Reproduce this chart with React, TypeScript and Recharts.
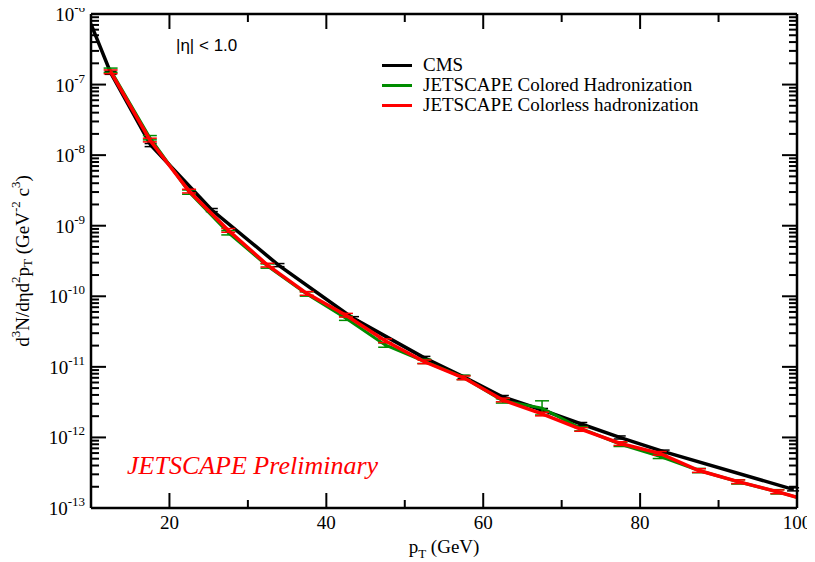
import React from 'react';
import { LineChart, Line, XAxis, YAxis, ErrorBar } from 'recharts';

// ---- data ----
const cmsPt = [10, 12.5, 17.6, 25.4, 33.9, 43.4, 52.5, 57.5, 62.5, 67.5, 72.5, 77.4, 83.0, 99.5];
const cmsVal = [7.2e-7, 1.47e-7, 1.39e-8, 1.67e-9, 2.77e-10, 4.9e-11, 1.34e-11, 7.2e-12, 3.74e-12, 2.45e-12, 1.55e-12, 1.0e-12, 6.3e-13, 1.84e-13];
const cmsRelErr = [0, 0.05, 0.05, 0.05, 0.05, 0.05, 0.05, 0.05, 0.05, 0.05, 0.05, 0.05, 0.05, 0.05];

const jsPt = [12.5, 17.5, 22.5, 27.5, 32.5, 37.5, 42.5, 47.5, 52.5, 57.5, 62.5, 67.5, 72.5, 77.5, 82.5, 87.5, 92.5, 97.5, 100];
const coloredVal = [1.6e-7, 1.77e-8, 3.0e-9, 7.96e-10, 2.69e-10, 1.08e-10, 4.9e-11, 2.04e-11, 1.2e-11, 7.1e-12, 3.3e-12, 2.6e-12, 1.33e-12, 8.0e-13, 5.4e-13, 3.4e-13, 2.35e-13, 1.7e-13, 1.42e-13];
const coloredRelErrLo = [0.07, 0.07, 0.07, 0.07, 0.07, 0.07, 0.07, 0.07, 0.07, 0.07, 0.07, 0.2, 0.07, 0.07, 0.07, 0.07, 0.07, 0.07, 0];
const coloredRelErrHi = [0.07, 0.07, 0.07, 0.07, 0.07, 0.07, 0.07, 0.07, 0.07, 0.07, 0.07, 0.27, 0.07, 0.07, 0.07, 0.07, 0.07, 0.07, 0];
const colorlessVal = [1.52e-7, 1.64e-8, 3.1e-9, 8.6e-10, 2.77e-10, 1.1e-10, 5.4e-11, 2.35e-11, 1.18e-11, 7.0e-12, 3.4e-12, 2.15e-12, 1.3e-12, 8.2e-13, 5.95e-13, 3.4e-13, 2.36e-13, 1.7e-13, 1.42e-13];
const colorlessRelErr = [0.06, 0.06, 0.06, 0.06, 0.06, 0.06, 0.06, 0.06, 0.06, 0.06, 0.06, 0.06, 0.06, 0.06, 0.06, 0.06, 0.06, 0.06, 0];

const xTicks = [10, 20, 30, 40, 50, 60, 70, 80, 90, 100];
const xLabeled = [20, 40, 60, 80, 100];
const decades = [-13, -12, -11, -10, -9, -8, -7];
const mantissas = [1, 2, 3, 4, 5, 6, 7, 8, 9];

const legendItems = [
  { name: 'CMS', color: '#000000' },
  { name: 'JETSCAPE Colored Hadronization', color: '#008c00' },
  { name: 'JETSCAPE Colorless hadronization', color: '#ff0000' },
];

// ---- tables built from arrays ----
const yTicks: number[] = [];
decades.forEach((d) => mantissas.forEach((m) => yTicks.push(Number((m * Math.pow(10, d)).toPrecision(6)))));
yTicks.push(1e-6);

const cmsData = cmsPt.map((x, i) => ({
  x,
  y: cmsVal[i],
  err: cmsRelErr[i] > 0 ? [cmsVal[i] * cmsRelErr[i], cmsVal[i] * cmsRelErr[i]] : null,
}));
const coloredData = jsPt.map((x, i) => ({
  x,
  y: coloredVal[i],
  err: coloredRelErrHi[i] > 0 ? [coloredVal[i] * coloredRelErrLo[i], coloredVal[i] * coloredRelErrHi[i]] : null,
}));
const colorlessData = jsPt.map((x, i) => ({
  x,
  y: colorlessVal[i],
  err: colorlessRelErr[i] > 0 ? [colorlessVal[i] * colorlessRelErr[i], colorlessVal[i] * colorlessRelErr[i]] : null,
}));

const SERIF = '"Liberation Serif", "Times New Roman", serif';
const SANS = '"Liberation Sans", Arial, sans-serif';

const isMajor = (v: number) => {
  const lg = Math.log10(v);
  return Math.abs(lg - Math.round(lg)) < 1e-6;
};

const LeftTick = (props: any) => {
  const { x, y, payload } = props;
  const v = payload.value;
  const major = isMajor(v);
  const e = Math.round(Math.log10(v));
  return (
    <g>
      <line x1={x} x2={x + (major ? 15 : 8)} y1={y} y2={y} stroke="#000" strokeWidth={2} />
      {major && (
        <text x={x - 6} y={y + 7} textAnchor="end" fontFamily={SERIF} fontSize={19} fill="#000">
          10
          <tspan dy={-9} fontSize={13}>{'-' + Math.abs(e)}</tspan>
        </text>
      )}
    </g>
  );
};

const RightTick = (props: any) => {
  const { x, y, payload } = props;
  const major = isMajor(payload.value);
  return <line x1={x} x2={x - (major ? 15 : 8)} y1={y} y2={y} stroke="#000" strokeWidth={2} />;
};

const BottomTick = (props: any) => {
  const { x, y, payload } = props;
  const v = payload.value;
  const labeled = xLabeled.includes(v);
  if (v === 10) return <g />;
  return (
    <g>
      <line x1={x} x2={x} y1={y} y2={y - (labeled ? 15 : 8)} stroke="#000" strokeWidth={2} />
      {labeled && (
        <text x={x} y={y + 21} textAnchor="middle" fontFamily={SERIF} fontSize={19} fill="#000">
          {v}
        </text>
      )}
    </g>
  );
};

const TopTick = (props: any) => {
  const { x, y, payload } = props;
  const v = payload.value;
  if (v === 10 || v === 100) return <g />;
  const labeled = xLabeled.includes(v);
  return <line x1={x} x2={x} y1={y} y2={y + (labeled ? 15 : 8)} stroke="#000" strokeWidth={2} />;
};

const YLabel = (props: any) => {
  const vb = props.viewBox || {};
  const cx = 22;
  const cy = (vb.y ?? 14) + (vb.height ?? 494) / 2;
  return (
    <text
      x={cx}
      y={cy}
      transform={`rotate(-90 ${cx} ${cy})`}
      textAnchor="middle"
      dominantBaseline="central"
      fontFamily={SERIF}
      fontSize={19}
      fill="#000"
    >
      d<tspan dy={-7} fontSize={13}>3</tspan>
      <tspan dy={7}>N/dηd</tspan>
      <tspan dy={-7} fontSize={13}>2</tspan>
      <tspan dy={7}>p</tspan>
      <tspan dy={5} fontSize={13}>T</tspan>
      <tspan dy={-5}> (GeV</tspan>
      <tspan dy={-7} fontSize={13}>-2</tspan>
      <tspan dy={7}> c</tspan>
      <tspan dy={-7} fontSize={13}>3</tspan>
      <tspan dy={7}>)</tspan>
    </text>
  );
};

const XLabel = (props: any) => {
  const vb = props.viewBox || {};
  const cx = (vb.x ?? 91) + (vb.width ?? 706) / 2;
  const cy = 553;
  return (
    <text x={cx} y={cy} textAnchor="middle" fontFamily={SERIF} fontSize={19} fill="#000">
      p<tspan dy={5} fontSize={13}>T</tspan>
      <tspan dy={-5}> (GeV)</tspan>
    </text>
  );
};

export default function App() {
  return (
    <div style={{ position: 'relative', width: 815, height: 562, marginLeft: -8, marginTop: -8, background: '#fff' }}>
      <LineChart width={815} height={562} margin={{ top: 0, right: 0, bottom: 0, left: 0 }}>
        <XAxis
          xAxisId="b"
          type="number"
          dataKey="x"
          domain={[10, 100]}
          allowDataOverflow
          ticks={xTicks}
          interval={0}
          height={54}
          tickSize={0}
          tickMargin={0}
          tickLine={false}
          tick={<BottomTick />}
          axisLine={{ stroke: '#000', strokeWidth: 2.5 }}
          label={<XLabel />}
        />
        <XAxis
          xAxisId="t"
          orientation="top"
          type="number"
          dataKey="x"
          domain={[10, 100]}
          allowDataOverflow
          ticks={xTicks}
          interval={0}
          height={14}
          tickSize={0}
          tickMargin={0}
          tickLine={false}
          tick={<TopTick />}
          axisLine={{ stroke: '#000', strokeWidth: 2.5 }}
        />
        <YAxis
          yAxisId="l"
          type="number"
          scale="log"
          domain={[1e-13, 1e-6]}
          allowDataOverflow
          ticks={yTicks}
          interval={0}
          width={91}
          tickSize={0}
          tickMargin={0}
          tickLine={false}
          tick={<LeftTick />}
          axisLine={{ stroke: '#000', strokeWidth: 2.5 }}
          label={<YLabel />}
        />
        <YAxis
          yAxisId="r"
          orientation="right"
          type="number"
          scale="log"
          domain={[1e-13, 1e-6]}
          allowDataOverflow
          ticks={yTicks}
          interval={0}
          width={18}
          tickSize={0}
          tickMargin={0}
          tickLine={false}
          tick={<RightTick />}
          axisLine={{ stroke: '#000', strokeWidth: 2.5 }}
        />
        <Line
          xAxisId="b"
          yAxisId="l"
          data={cmsData}
          dataKey="y"
          type="linear"
          stroke="#000000"
          strokeWidth={3.5}
          dot={false}
          isAnimationActive={false}
          name="CMS"
        >
          <ErrorBar dataKey="err" direction="y" width={6} stroke="#000" strokeWidth={1.5} />
        </Line>
        <Line
          xAxisId="b"
          yAxisId="l"
          data={coloredData}
          dataKey="y"
          type="linear"
          stroke="#008c00"
          strokeWidth={3}
          dot={false}
          isAnimationActive={false}
          name="JETSCAPE Colored Hadronization"
        >
          <ErrorBar dataKey="err" direction="y" width={7} stroke="#008c00" strokeWidth={1.5} />
        </Line>
        <Line
          xAxisId="b"
          yAxisId="l"
          data={colorlessData}
          dataKey="y"
          type="linear"
          stroke="#ff0000"
          strokeWidth={3.5}
          dot={false}
          isAnimationActive={false}
          name="JETSCAPE Colorless hadronization"
        >
          <ErrorBar dataKey="err" direction="y" width={7} stroke="#ff0000" strokeWidth={1.5} />
        </Line>
      </LineChart>

      {/* legend */}
      {legendItems.map((it, i) => (
        <div key={it.name} style={{ position: 'absolute', left: 382, top: 55 + i * 20, height: 20, display: 'flex', alignItems: 'center' }}>
          <div style={{ width: 30, height: 3, background: it.color }} />
          <div style={{ marginLeft: 11, fontFamily: SERIF, fontSize: 19, lineHeight: '20px', color: '#000', whiteSpace: 'nowrap' }}>{it.name}</div>
        </div>
      ))}

      <div style={{ position: 'absolute', left: 176, top: 35, fontFamily: SANS, fontSize: 17, lineHeight: '22px', color: '#000', whiteSpace: 'nowrap' }}>
        |η| &lt; 1.0
      </div>
      <div style={{ position: 'absolute', left: 127, top: 450, fontFamily: SERIF, fontStyle: 'italic', fontSize: 26, lineHeight: '32px', color: '#ff0000', whiteSpace: 'nowrap' }}>
        JETSCAPE Preliminary
      </div>
    </div>
  );
}
